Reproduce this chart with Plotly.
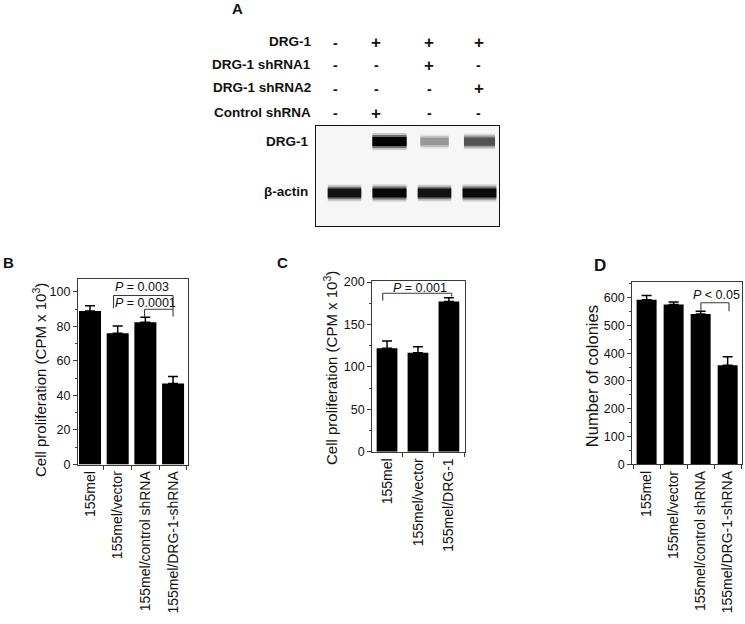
import plotly.graph_objects as go

# panel B - cell proliferation after DRG-1 knockdown
b_groups = ["155mel", "155mel/vector", "155mel/control shRNA", "155mel/DRG-1-shRNA"]
b_means = [89, 76, 82.4, 47]
b_errs = [3, 4.3, 3, 4]

# panel C - cell proliferation after DRG-1 overexpression
c_groups = ["155mel", "155mel/vector", "155mel/DRG-1"]
c_means = [122, 116.7, 177]
c_errs = [8.5, 7, 4.5]

# panel D - colony formation
d_groups = ["155mel", "155mel/vector", "155mel/control shRNA", "155mel/DRG-1-shRNA"]
d_means = [592, 575, 541, 356]
d_errs = [15, 9, 10, 31]

# panel A - western blot conditions and band intensities (0..1)
blot_rows = ["DRG-1", "DRG-1 shRNA1", "DRG-1 shRNA2", "Control shRNA"]
blot_signs = [["-", "+", "+", "+"],
              ["-", "-", "+", "-"],
              ["-", "-", "-", "+"],
              ["-", "+", "-", "-"]]
drg1_band = [0.0, 1.0, 0.35, 0.65]
actin_band = [0.92, 0.97, 0.92, 0.95]

W, H = 745, 624
FONT = "Liberation Sans, Arial, sans-serif"
AX = "#3a3a3a"


def px(x):
    return x / W


def py(y):
    return 1 - y / H


fig = go.Figure()
annotations = []
shapes = []


def label(x, y, txt, size, xanchor="center", angle=0):
    # paper-referenced text, anchored explicitly so 'auto' anchoring doesn't move it
    annotations.append(dict(xref="paper", yref="paper", x=px(x), y=py(y), text=txt,
                            xanchor=xanchor, yanchor="middle", textangle=angle,
                            showarrow=False, font=dict(size=size, color="#111", family=FONT)))


def bar_panel(n, groups, means, errs, xdom, ydom, xrange, yrange, dtick, minor, width):
    xa = "x" if n == 1 else f"x{n}"
    ya = "y" if n == 1 else f"y{n}"
    fig.add_trace(go.Bar(
        x=groups, y=means, xaxis=xa, yaxis=ya, width=width,
        marker=dict(color="black", line=dict(width=0)),
        error_y=dict(type="data", array=errs, symmetric=False,
                     arrayminus=[0] * len(errs), color="black",
                     thickness=1.5, width=5),
        showlegend=False,
    ))
    key = "" if n == 1 else str(n)
    fig.layout["xaxis" + key] = dict(
        domain=xdom, anchor=ya, type="category", range=xrange,
        showline=True, mirror=True, linecolor=AX, linewidth=1.2,
        ticks="outside", ticklen=4, tickcolor=AX, tickson="boundaries",
        tickangle=-90, tickfont=dict(size=14, color="#111", family=FONT),
        showgrid=False, zeroline=False, fixedrange=True,
    )
    fig.layout["yaxis" + key] = dict(
        domain=ydom, anchor=xa, range=yrange, dtick=dtick,
        showline=True, mirror=True, linecolor=AX, linewidth=1.2,
        ticks="outside", ticklen=4, tickcolor=AX,
        minor=dict(dtick=minor, ticks="outside", ticklen=2, tickcolor=AX),
        tickfont=dict(size=12.5, color="#111", family=FONT),
        showgrid=False, zeroline=False, fixedrange=True,
    )


def bracket(n, x0, x1, y, y0, y1):
    xr = "x" if n == 1 else f"x{n}"
    yr = "y" if n == 1 else f"y{n}"
    for (a, b, c, d) in [(x0, y, x1, y), (x0, y, x0, y0), (x1, y, x1, y1)]:
        shapes.append(dict(type="line", xref=xr, yref=yr, x0=a, y0=b, x1=c, y1=d,
                           line=dict(color=AX, width=1.1)))


def ptext(n, x, y, txt):
    xr = "x" if n == 1 else f"x{n}"
    yr = "y" if n == 1 else f"y{n}"
    annotations.append(dict(xref=xr, yref=yr, x=x, y=y, text=txt, showarrow=False,
                            font=dict(size=12.5, color="#111", family=FONT)))


bar_panel(1, b_groups, b_means, b_errs, [px(78), px(188)], [py(464.5), py(279)],
          [-0.434, 3.54], [0, 107.5], 20, 10, 0.795)
bar_panel(2, c_groups, c_means, c_errs, [px(372.3), px(465)], [py(451.7), py(281)],
          [-0.476, 2.52], [0, 201.3], 50, 25, 0.67)
bar_panel(3, d_groups, d_means, d_errs, [px(632.3), px(741.7)], [py(464.3), py(281.7)],
          [-0.53, 3.52], [0, 657], 100, 50, 0.74)

# significance brackets
bracket(1, 0.85, 3, 97.9, 90.5, 90)
bracket(1, 1.97, 3, 90, 85.5, 85.7)
ptext(1, 1.87, 102.7, "<i>P</i> = 0.003")
ptext(1, 2.0, 93.4, "<i>P</i> = 0.0001")
bracket(2, -0.14, 2.09, 186.8, 178, 183)
ptext(2, 1.07, 193, "<i>P</i> = 0.001")
bracket(3, 2.01, 3.05, 581, 551, 551)
ptext(3, 2.59, 609, "<i>P</i> < 0.05")

# y-axis titles
label(40, 380, "Cell proliferation (CPM x 10<sup>3</sup>)", 15, angle=-90)
label(330, 368, "Cell proliferation (CPM x 10<sup>3</sup>)", 15, angle=-90)
label(591.7, 376.5, "Number of colonies", 16.5, angle=-90)

# panel letters
for x, y, txt, size in [(237, 9, "A", 15), (8, 262, "B", 15),
                        (282, 262, "C", 15), (600, 265, "D", 17)]:
    label(x, y, f"<b>{txt}</b>", size)

# panel A: condition table
row_y = [42, 64.5, 87.5, 112]
col_x = [335, 376, 429.5, 478.5]
for r, name in enumerate(blot_rows):
    label(313, row_y[r], f"<b>{name}</b>", 13.5, xanchor="right")
    for c, s in enumerate(blot_signs[r]):
        label(col_x[c], row_y[r] + 1, f"<b>{s}</b>", 17 if s == "+" else 14)

label(310, 141.7, "<b>DRG-1</b>", 13.5, xanchor="right")
label(310, 191, "<b>β-actin</b>", 13.5, xanchor="right")

# panel A: blot
lanes = list(range(4))
for row_y_val, band in [(0.842, drg1_band), (0.329, actin_band)]:
    for lane, inten in zip(lanes, band):
        if inten <= 0:
            continue
        half = 0.28 + 0.1 * inten
        g = int(235 * (1 - inten))
        for lw, op in [(17, 0.18), (13, 0.45), (9, 1.0)]:
            fig.add_trace(go.Scatter(
                x=[lane - half, lane + half], y=[row_y_val, row_y_val],
                xaxis="x4", yaxis="y4", mode="lines",
                line=dict(color=f"rgb({g},{g},{g})", width=lw * (0.75 + 0.25 * inten)),
                opacity=op, hoverinfo="skip", showlegend=False,
            ))

fig.layout["xaxis4"] = dict(domain=[px(315.7), px(499.3)], anchor="y4", range=[-0.64, 3.44],
                            showline=True, mirror=True, linecolor="#111", linewidth=1,
                            showticklabels=False, ticks="", showgrid=False, zeroline=False)
fig.layout["yaxis4"] = dict(domain=[py(226), py(125.7)], anchor="x4", range=[0, 1],
                            showline=True, mirror=True, linecolor="#111", linewidth=1,
                            showticklabels=False, ticks="", showgrid=False, zeroline=False)
shapes.append(dict(type="rect", xref="x4 domain", yref="y4 domain", x0=0, x1=1, y0=0, y1=1,
                   fillcolor="#f6f6f6", line=dict(width=0), layer="below"))

fig.update_layout(
    width=W, height=H, margin=dict(l=0, r=0, t=0, b=0, autoexpand=False),
    paper_bgcolor="white", plot_bgcolor="rgba(0,0,0,0)",
    font=dict(family=FONT, color="#111"),
    annotations=annotations, shapes=shapes, bargap=0.2,
)

# drop the browser's default 8px body margin so the figure sits at the page origin
fig.write_html("out.html", config={"displayModeBar": False},
               post_script="document.body.style.margin='0px';")
